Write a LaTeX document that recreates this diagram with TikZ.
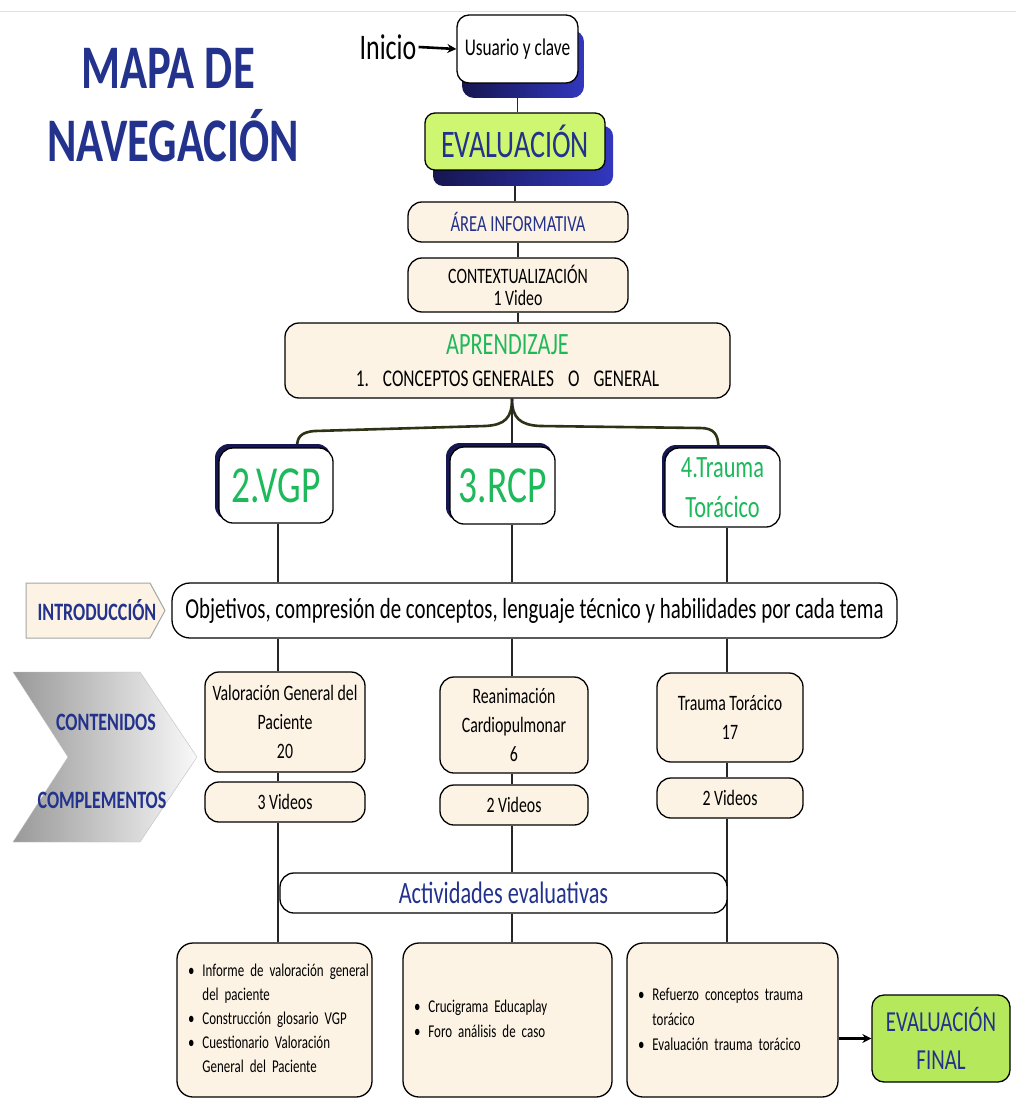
\documentclass[tikz,border=0pt]{standalone}
\usepackage{fontspec}
\setmainfont{Carlito}[FakeStretch=0.72]
\usetikzlibrary{arrows.meta,calc,backgrounds}
\definecolor{navytext}{RGB}{35,50,140}
\definecolor{greentext}{RGB}{30,185,90}
\definecolor{beige}{RGB}{252,243,229}
\definecolor{lime}{RGB}{206,246,112}
\definecolor{limefin}{RGB}{182,232,92}
\definecolor{olivebr}{RGB}{45,52,22}
\definecolor{shnavy}{RGB}{22,22,80}
\definecolor{shblue}{RGB}{50,55,190}
\newcommand\myfs[2]{\fontsize{#1}{#2}\selectfont}
\tikzset{
  box/.style={draw=black, line width=1.3, rounded corners=14, inner sep=0, align=center},
  beigebox/.style={box, fill=beige},
  wbox/.style={box, fill=white},
  actbox/.style={beigebox, rounded corners=16, minimum height=154, align=left},
  conn/.style={draw=black!85, line width=1.1},
  branch/.style={draw=olivebr, line width=2.6},
  navyshadow/.style={fill=shnavy, rounded corners=14},
}
\begin{document}
\begin{tikzpicture}[x=1pt,y=-1pt]
\useasboundingbox (0,0) rectangle (1016,1110);
\coordinate (c1) at (278,0);
\coordinate (c2) at (512,0);
\coordinate (c3) at (727,0);

% title
\node[font=\bfseries\myfs{62}{62}, text=navytext] (t1) at (168,68) {MAPA DE};
\node[font=\bfseries\myfs{62}{62}, text=navytext] (t2) at (173,136) {NAVEGACIÓN};

% shadows
\shade[left color=shnavy, right color=shblue, rounded corners=12] (462,30) rectangle (584,98);
\shade[left color=shnavy, right color=shblue, rounded corners=10] (433,126) rectangle (613,186);
\fill[navyshadow] (215,444) rectangle (331,520);
\fill[navyshadow] (446,443) rectangle (553,521);
\fill[navyshadow] (662,445) rectangle (778,524);

% top nodes
\node[inner sep=2, font=\myfs{36}{36}] (ini) at (388,47) {Inicio};
\node[wbox, rounded corners=12, minimum width=121, minimum height=68, font=\myfs{24}{24}] (usr) at (517.5,49) {Usuario y clave};
\node[box, fill=lime, rounded corners=10, minimum width=180, minimum height=57, font=\myfs{39}{39}, text=navytext] (ev) at (515,141.5) {EVALUACIÓN};
\node[beigebox, minimum width=220, minimum height=40, font=\myfs{23}{23}, text=navytext] (area) at (518,222) {ÁREA INFORMATIVA};
\node[beigebox, minimum width=220, minimum height=54, font=\myfs{22}{22}] (ctx) at (518,285) {CONTEXTUALIZACIÓN\\1 Video};
\node[beigebox, minimum width=445, minimum height=75, font=\myfs{24}{32}] (apr) at (507.5,360.5) {{\color{greentext}\myfs{31}{32}APRENDIZAJE}\\1.\hspace{14pt}CONCEPTOS GENERALES\hspace{14pt}O\hspace{14pt}GENERAL};

% topic nodes
\node[wbox, minimum width=114, minimum height=75, font=\myfs{52}{52}, text=greentext] (vgp) at (276,485.5) {2.VGP};
\node[wbox, minimum width=105, minimum height=77, font=\myfs{52}{52}, text=greentext] (rcp) at (502.5,485.5) {3.RCP};
\node[wbox, minimum width=115, minimum height=79, font=\myfs{31}{40}, text=greentext] (tt) at (722.5,487.5) {4.Trauma\\Torácico};

% introduction
\draw[fill=beige, draw=gray!70, line width=1] (26,583) -- (150,583) -- (165,610.5) -- (150,638) -- (26,638) -- cycle;
\node[font=\bfseries\myfs{25}{25}, text=navytext] (intro) at (97,610) {INTRODUCCIÓN};
\node[wbox, rounded corners=18, minimum width=725, minimum height=55, font=\myfs{29}{29}] (obj) at (534.5,610.5) {Objetivos, compresión de conceptos, lenguaje técnico y habilidades por cada tema};

% chevron
\shadedraw[left color=gray!80, right color=gray!5, draw=gray!50] (13,672) -- (140,672) -- (197,757) -- (140,842) -- (13,842) -- (68,757) -- cycle;
\node[font=\bfseries\myfs{25}{25}, text=navytext] (cont) at (106,722) {CONTENIDOS};
\node[font=\bfseries\myfs{25}{25}, text=navytext] (comp) at (102,800) {COMPLEMENTOS};

% content boxes
\node[beigebox, minimum width=160, minimum height=100, font=\myfs{22}{29}] (val) at (285,722) {Valoración General del\\Paciente\\20};
\node[beigebox, minimum width=148, minimum height=96, font=\myfs{22}{29}] (rea) at (514,725) {Reanimación\\Cardiopulmonar\\6};
\node[beigebox, minimum width=146, minimum height=89, font=\myfs{22}{29}] (tra) at (730,717.5) {Trauma Torácico\\17};
\node[beigebox, minimum width=160, minimum height=40, font=\myfs{22}{22}] (v1) at (285,802) {3 Videos};
\node[beigebox, minimum width=148, minimum height=40, font=\myfs{22}{22}] (v2) at (514,805) {2 Videos};
\node[beigebox, minimum width=146, minimum height=40, font=\myfs{22}{22}] (v3) at (730,798) {2 Videos};

% activities
\node[wbox, minimum width=447, minimum height=40, font=\myfs{31}{31}, text=navytext] (act) at (503.5,893) {Actividades evaluativas};
\node[actbox, minimum width=195, text width=173, font=\myfs{18}{24}] (a1) at (274.5,1020) {\begin{tabular}{@{}l@{\hspace{8pt}}l@{}}\textbullet & Informe de valoración general\\ & del paciente\\ \textbullet & Construcción glosario VGP\\ \textbullet & Cuestionario Valoración\\ & General del Paciente\end{tabular}};
\node[actbox, minimum width=209, text width=187, font=\myfs{18}{25}] (a2) at (507.5,1020) {\begin{tabular}{@{}l@{\hspace{8pt}}l@{}}\textbullet & Crucigrama Educaplay\\ \textbullet & Foro análisis de caso\end{tabular}};
\node[actbox, minimum width=211, text width=189, font=\myfs{18}{25}] (a3) at (732.5,1020) {\begin{tabular}{@{}l@{\hspace{8pt}}l@{}}\textbullet & Refuerzo conceptos trauma\\ & torácico\\ \textbullet & Evaluación trauma torácico\end{tabular}};
\node[box, fill=limefin, rounded corners=12, minimum width=138, minimum height=87, font=\myfs{29}{38}, text=navytext] (fin) at (941,1038.5) {EVALUACIÓN\\FINAL};

% arrows
\draw[line width=2.6, -{Stealth[length=9,width=9]}] (ini.east) -- (usr.west);
\draw[line width=2.6, -{Stealth[length=9,width=9]}] (a3.east |- fin.west) -- (fin.west);

\begin{scope}[on background layer]
\fill[white] (0,0) rectangle (1016,1110);
\draw[gray!25, line width=1] (0,12) -- (1016,12);
\draw[conn] (usr.south) -- (usr.south |- ev.north);
\draw[conn] (ev.south) -- (ev.south |- area.north);
\draw[conn] (area.south) -- (ctx.north);
\draw[conn] (ctx.south) -- (ctx.south |- apr.north);
\draw[branch] (c2 |- apr.south) .. controls (512,418) and (505,425) .. (485,426) -- (315,431) .. controls (300,432) and (297,438) .. ($(vgp.north)+(21,0)$);
\draw[branch] (c2 |- apr.south) .. controls (512,418) and (520,425) .. (540,426) -- (700,428) .. controls (714,428) and (718,434) .. ($(tt.north)+(-4,0)$);
\draw[conn] (c2 |- apr.south) -- (c2 |- rcp.north);
\draw[conn] (c1 |- vgp.south) -- (c1 |- obj.north);
\draw[conn] (c2 |- rcp.south) -- (c2 |- obj.north);
\draw[conn] (c3 |- tt.south) -- (c3 |- obj.north);
\draw[conn] (c1 |- obj.south) -- (c1 |- val.north);
\draw[conn] (c2 |- obj.south) -- (c2 |- rea.north);
\draw[conn] (c3 |- obj.south) -- (c3 |- tra.north);
\draw[conn] (c1 |- val.south) -- (c1 |- v1.north);
\draw[conn] (c2 |- rea.south) -- (c2 |- v2.north);
\draw[conn] (c3 |- tra.south) -- (c3 |- v3.north);
\draw[conn] (c1 |- v1.south) -- (c1 |- a1.north);
\draw[conn] (c2 |- v2.south) -- (c2 |- act.north);
\draw[conn] (c2 |- act.south) -- (c2 |- a2.north);
\draw[conn] (c3 |- v3.south) -- (c3 |- a3.north);
\end{scope}
\end{tikzpicture}
\end{document}
